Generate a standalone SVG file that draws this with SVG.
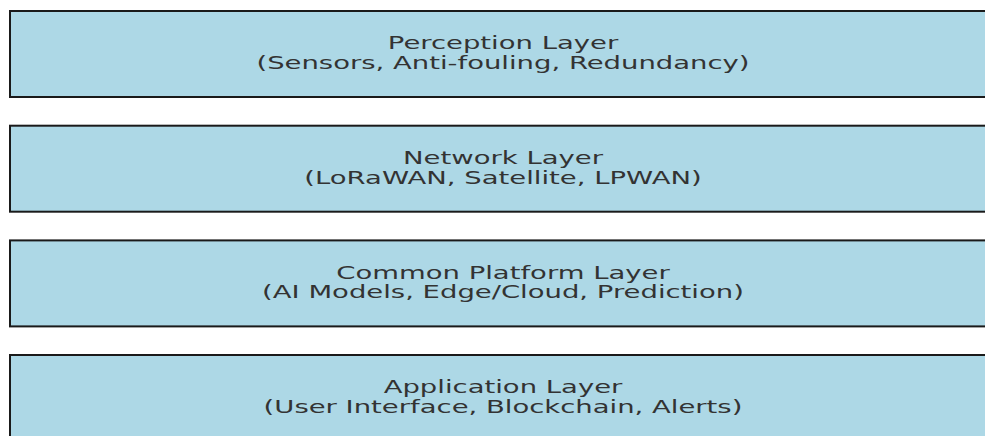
<svg xmlns="http://www.w3.org/2000/svg" width="985" height="436" viewBox="0 0 985 436">
<style>
.box{fill:#ADD8E6;stroke:#1a1a1a;stroke-width:2}
.t{font-family:"DejaVu Sans",sans-serif;font-size:17.5px;fill:#333333;text-anchor:middle}
</style>
<rect width="985" height="436" fill="#ffffff"/>
<g id="perception">
<rect class="box" x="10" y="11" width="990" height="86"/>
<g transform="translate(503,0) scale(1.57,1)">
<text class="t" x="0" y="49.3">Perception Layer</text>
<text class="t" x="0" y="69">(Sensors, Anti-fouling, Redundancy)</text>
</g>
</g>
<g id="network">
<rect class="box" x="10" y="125.7" width="990" height="86"/>
<g transform="translate(503,114.7) scale(1.57,1)">
<text class="t" x="0" y="49.3">Network Layer</text>
<text class="t" x="0" y="69">(LoRaWAN, Satellite, LPWAN)</text>
</g>
</g>
<g id="platform">
<rect class="box" x="10" y="240.4" width="990" height="86"/>
<g transform="translate(503,229.4) scale(1.57,1)">
<text class="t" x="0" y="49.3">Common Platform Layer</text>
<text class="t" x="0" y="69">(AI Models, Edge/Cloud, Prediction)</text>
</g>
</g>
<g id="application">
<rect class="box" x="10" y="355" width="990" height="86"/>
<g transform="translate(503,344) scale(1.57,1)">
<text class="t" x="0" y="49.3">Application Layer</text>
<text class="t" x="0" y="69">(User Interface, Blockchain, Alerts)</text>
</g>
</g>
<g id="connectors"/>
</svg>
